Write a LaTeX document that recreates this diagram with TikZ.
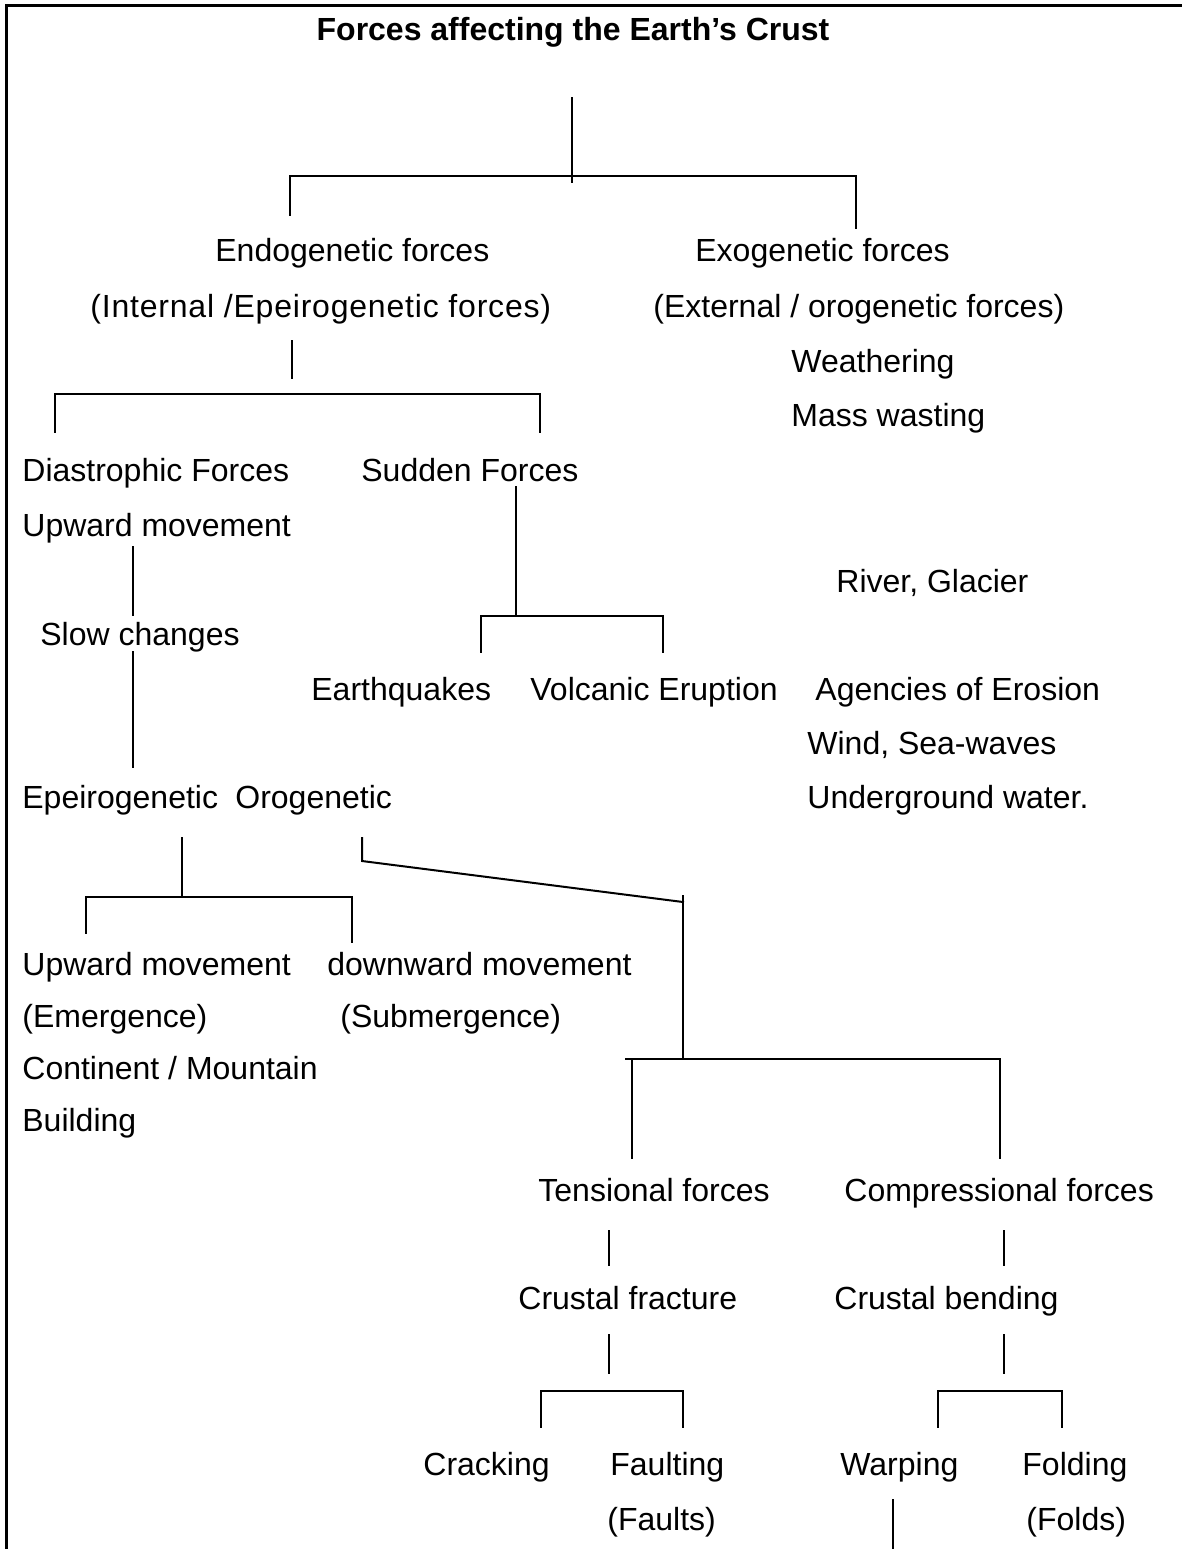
\documentclass[tikz,border=0pt]{standalone}
\usepackage{fontspec}
\setmainfont{Liberation Sans}
\begin{document}
\begin{tikzpicture}[x=0.5pt,y=-0.5pt,
  lbl/.style={anchor=base west,inner sep=0pt,font=\fontsize{16pt}{19pt}\selectfont},
  ttl/.style={anchor=base,inner sep=0pt,font=\fontsize{16pt}{19pt}\selectfont\bfseries},
  conn/.style={line width=1pt,line cap=rect},
  frame/.style={line width=1.5pt}]
\useasboundingbox (0,0) rectangle (1182,1549);
% frame
\coordinate (fTL) at (6,5);
\coordinate (fTR) at (1182,5);
\coordinate (fBL) at (6,1549);
\draw[frame] (fTR) -- (fTL) -- (fBL);

% texts
\node[ttl] (title) at (573,40) {Forces affecting the Earth’s Crust};
\node[lbl] (endo) at (215,261) {Endogenetic forces};
\node[lbl] (endo2) at (90,317) {\addfontfeature{LetterSpace=2.5}(Internal /Epeirogenetic forces)};
\node[lbl] (exo) at (695,261) {Exogenetic forces};
\node[lbl] (exo2) at (653,317) {(External / orogenetic forces)};
\node[lbl] (weath) at (791,372) {Weathering};
\node[lbl] (mass) at (791,426) {Mass wasting};
\node[lbl] (dias) at (22,481) {Diastrophic Forces};
\node[lbl] (sudden) at (361,481) {Sudden Forces};
\node[lbl] (up1) at (22,536) {Upward movement};
\node[lbl] (river) at (836,592) {River, Glacier};
\node[lbl] (slow) at (40,645) {Slow changes};
\node[lbl] (quake) at (311,700) {Earthquakes};
\node[lbl] (volc) at (530,700) {Volcanic Eruption};
\node[lbl] (agen) at (815,700) {Agencies of Erosion};
\node[lbl] (wind) at (807,754) {Wind, Sea-waves};
\node[lbl] (under) at (807,808) {Underground water.};
\node[lbl] (epei) at (22,808) {Epeirogenetic};
\node[lbl] (orog) at (235,808) {Orogenetic};
\node[lbl] (up2) at (22,975) {Upward movement};
\node[lbl] (down) at (327,975) {downward movement};
\node[lbl] (emer) at (22,1027) {(Emergence)};
\node[lbl] (subm) at (340,1027) {(Submergence)};
\node[lbl] (cont) at (22,1079) {Continent / Mountain};
\node[lbl] (build) at (22,1131) {Building};
\node[lbl] (tens) at (538,1201) {Tensional forces};
\node[lbl] (comp) at (844,1201) {Compressional forces};
\node[lbl] (frac) at (518,1309) {Crustal fracture};
\node[lbl] (bend) at (834,1309) {Crustal bending};
\node[lbl] (crack) at (423,1475) {Cracking};
\node[lbl] (fault) at (610,1475) {Faulting};
\node[lbl] (warp) at (840,1475) {Warping};
\node[lbl] (fold) at (1022,1475) {Folding};
\node[lbl] (faults) at (607,1530) {(Faults)};
\node[lbl] (folds) at (1026,1530) {(Folds)};

% connector points
\coordinate (r1) at (572,98);  \coordinate (r2) at (572,182);
\coordinate (h1L) at (290,176); \coordinate (h1R) at (856,176);
\coordinate (h1Ld) at (290,215); \coordinate (h1Rd) at (856,228);
\coordinate (e1) at (292,341); \coordinate (e2) at (292,378);
\coordinate (h2L) at (55,394); \coordinate (h2R) at (540,394);
\coordinate (h2Ld) at (55,432); \coordinate (h2Rd) at (540,432);
\coordinate (d1) at (133,547); \coordinate (d2) at (133,615);
\coordinate (d3) at (133,652); \coordinate (d4) at (133,767);
\coordinate (s1) at (516,487); \coordinate (s2) at (516,616);
\coordinate (h3L) at (481,616); \coordinate (h3R) at (663,616);
\coordinate (h3Ld) at (481,652); \coordinate (h3Rd) at (663,652);
\coordinate (p1) at (182,838); \coordinate (p2) at (182,897);
\coordinate (h4L) at (86,897); \coordinate (h4R) at (352,897);
\coordinate (h4Ld) at (86,933); \coordinate (h4Rd) at (352,942);
\coordinate (o1) at (362,838); \coordinate (o2) at (362,861);
\coordinate (o3) at (683,902); \coordinate (o5) at (683,896);
\coordinate (o4) at (683,1059);
\coordinate (h5L) at (626,1059); \coordinate (h5R) at (1000,1059);
\coordinate (h5Lt) at (632,1059);
\coordinate (h5Ld) at (632,1158); \coordinate (h5Rd) at (1000,1158);
\coordinate (t1) at (609,1231); \coordinate (t2) at (609,1265);
\coordinate (c1) at (1004,1231); \coordinate (c2) at (1004,1265);
\coordinate (t3) at (609,1335); \coordinate (t4) at (609,1373);
\coordinate (c3) at (1004,1335); \coordinate (c4) at (1004,1373);
\coordinate (h6L) at (541,1391); \coordinate (h6R) at (683,1391);
\coordinate (h6Ld) at (541,1427); \coordinate (h6Rd) at (683,1427);
\coordinate (h7L) at (938,1391); \coordinate (h7R) at (1062,1391);
\coordinate (h7Ld) at (938,1427); \coordinate (h7Rd) at (1062,1427);
\coordinate (w1) at (893,1500); \coordinate (w2) at (893,1549);

% connectors
\draw[conn] (r1) -- (r2);
\draw[conn] (h1Ld) -- (h1L) -- (h1R) -- (h1Rd);
\draw[conn] (e1) -- (e2);
\draw[conn] (h2Ld) -- (h2L) -- (h2R) -- (h2Rd);
\draw[conn] (d1) -- (d2);
\draw[conn] (d3) -- (d4);
\draw[conn] (s1) -- (s2);
\draw[conn] (h3Ld) -- (h3L) -- (h3R) -- (h3Rd);
\draw[conn] (p1) -- (p2);
\draw[conn] (h4Ld) -- (h4L) -- (h4R) -- (h4Rd);
\draw[conn] (o1) -- (o2) -- (o3);
\draw[conn] (o5) -- (o4);
\draw[conn] (h5L) -- (h5R) -- (h5Rd);
\draw[conn] (h5Lt) -- (h5Ld);
\draw[conn] (t1) -- (t2);
\draw[conn] (c1) -- (c2);
\draw[conn] (t3) -- (t4);
\draw[conn] (c3) -- (c4);
\draw[conn] (h6Ld) -- (h6L) -- (h6R) -- (h6Rd);
\draw[conn] (h7Ld) -- (h7L) -- (h7R) -- (h7Rd);
\draw[conn] (w1) -- (w2);
\end{tikzpicture}
\end{document}
